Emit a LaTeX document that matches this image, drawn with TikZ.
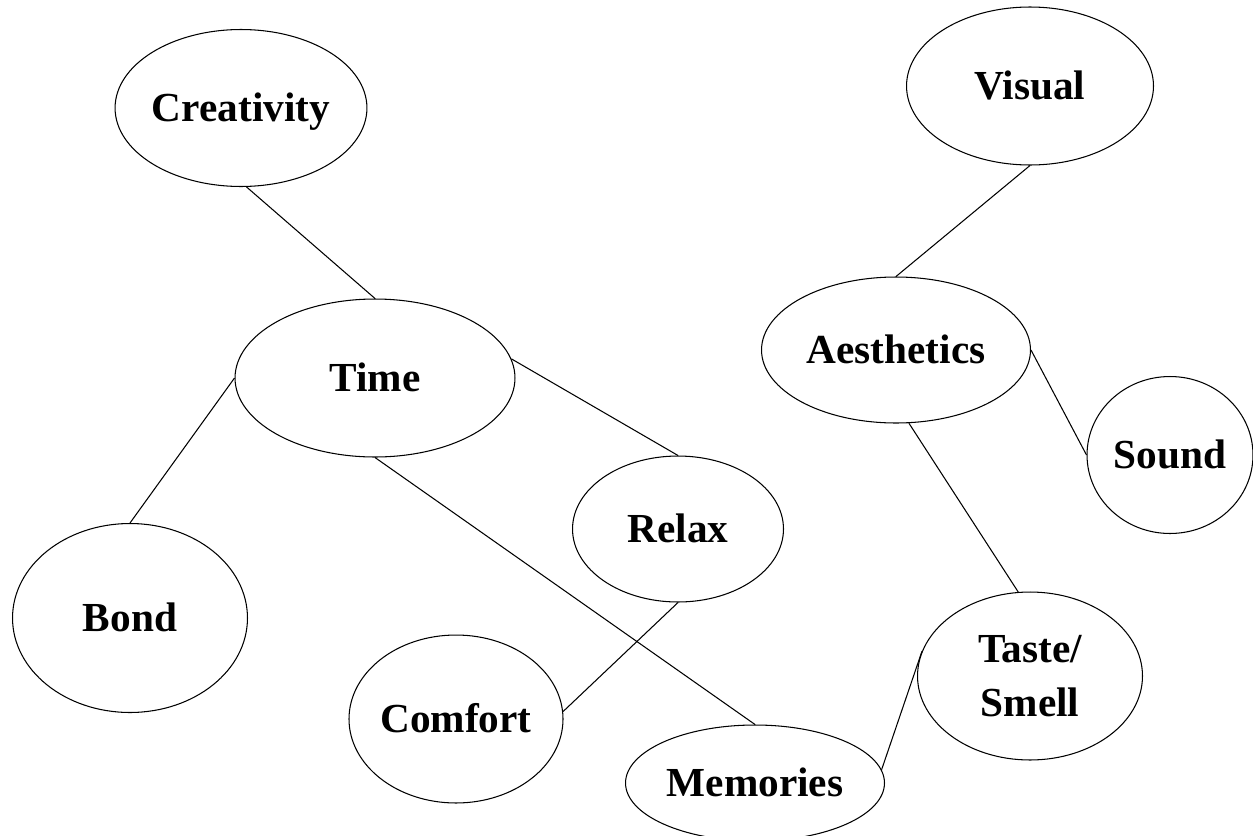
\documentclass[tikz,border=0pt]{standalone}
\usepackage{fontspec}
\setmainfont{Liberation Serif}
\usetikzlibrary{shapes.geometric}
\begin{document}
\begin{tikzpicture}[x=0.02cm,y=-0.02cm,
  bubble/.style={draw=black, ellipse, line width=0.6pt, inner sep=0pt,
    font=\fontsize{23.5}{31}\selectfont\bfseries, text height=15.5pt, text depth=0pt, align=center},
  link/.style={draw=black, line width=0.6pt}]
\useasboundingbox (0,0) rectangle (1253,835);
\fill[white] (0,0) rectangle (1253,835);
\node[bubble, minimum width=4.72cm, minimum height=3.14cm] (crea) at (241,108) {Creativity};
\node[bubble, minimum width=5.6cm, minimum height=3.16cm] (time) at (375,378) {Time};
\node[bubble, minimum width=4.7cm, minimum height=3.78cm] (bond) at (130,618) {Bond};
\node[bubble, minimum width=4.22cm, minimum height=2.92cm] (relax) at (678,529) {Relax};
\node[bubble, minimum width=3.94cm, minimum height=3.36cm] (comfort) at (456,719) {Comfort};
\node[bubble, minimum width=5.18cm, minimum height=2.32cm] (mem) at (755,783) {Memories};
\node[bubble, minimum width=4.94cm, minimum height=3.16cm] (visual) at (1030,86) {Visual};
\node[bubble, minimum width=5.38cm, minimum height=2.92cm] (aes) at (896,350) {Aesthetics};
\node[bubble, minimum width=3.32cm, minimum height=3.14cm] (sound) at (1170,455) {Sound};
\node[bubble, minimum width=4.5cm, minimum height=3.36cm, text height=, text depth=] (taste) at (1030,676) {Taste/\\Smell};
\draw[link] (crea.274) -- (time.north);
\draw[link] (time.west) -- (bond.north);
\draw[link] (time.8) -- (relax.north);
\draw[link] (time.south) -- (mem.north);
\draw[link] (relax.south) -- (comfort.4);
\draw[link] (visual.south) -- (aes.north);
\draw[link] (aes.east) -- (sound.west);
\draw[link] (aes.280) -- (taste.98);
\draw[link] (mem.6) -- (taste.167);
\end{tikzpicture}
\end{document}
